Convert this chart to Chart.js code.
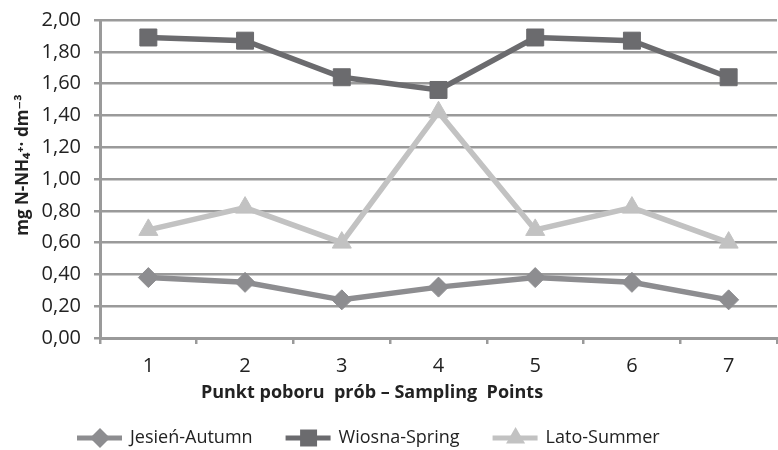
<!DOCTYPE html>
<html>
<head>
<meta charset="utf-8">
<script src="https://cdn.jsdelivr.net/npm/chart.js@4.4.0/dist/chart.umd.min.js"></script>
<style>
  html, body { margin: 0; padding: 0; background: #fff; overflow: hidden; }
  #wrap { width: 790px; height: 450px; position: relative; }
</style>
</head>
<body>
<div id="wrap"><canvas id="chart"></canvas></div>
<script>
// punkty poboru
const points = ['1', '2', '3', '4', '5', '6', '7'];
// wartości
const jesien = [0.38, 0.35, 0.24, 0.32, 0.38, 0.35, 0.24];
const wiosna = [1.89, 1.87, 1.64, 1.56, 1.89, 1.87, 1.64];
const lato = [0.68, 0.82, 0.60, 1.42, 0.68, 0.82, 0.60];
const seriesNames = ['Jesień-Autumn', 'Wiosna-Spring', 'Lato-Summer'];
const yTicks = [0, 0.2, 0.4, 0.6, 0.8, 1.0, 1.2, 1.4, 1.6, 1.8, 2.0];

const FONT = "'Open Sans', 'DejaVu Sans', sans-serif";
const GRID = '#9a9a9a';

function ds(label, data, color, style, radius) {
  return {
    label, data,
    borderColor: color,
    backgroundColor: color,
    pointBackgroundColor: color,
    pointBorderColor: color,
    borderWidth: 5.5,
    pointStyle: style,
    pointRadius: radius,
    pointHoverRadius: radius,
    pointBorderWidth: 1,
    tension: 0,
    fill: false
  };
}

// tytuł osi X i legenda rysowane ręcznie
const extras = {
  id: 'extras',
  afterDraw(chart) {
    const ctx = chart.ctx;
    ctx.save();
    ctx.fillStyle = '#222';
    // tytuł osi X (przesunięty w lewo jak w oryginale)
    ctx.font = "bold 18px " + FONT;
    ctx.textAlign = 'center';
    ctx.textBaseline = 'alphabetic';
    ctx.fillText('Punkt poboru  prób – Sampling  Points', 372, 398);

    // tytuł osi Y
    ctx.translate(28, 165);
    ctx.rotate(-Math.PI / 2);
    ctx.font = "bold 17px " + FONT;
    ctx.fillText('mg N-NH₄⁺· dm⁻³', 0, 0);
    ctx.restore();

    // legenda
    ctx.save();
    ctx.font = "18px " + FONT;
    ctx.textAlign = 'left';
    ctx.textBaseline = 'middle';
    let x = 77;
    const y = 438;
    chart.data.datasets.forEach(d => {
      ctx.strokeStyle = d.borderColor;
      ctx.lineWidth = 5;
      ctx.beginPath();
      ctx.moveTo(x, y);
      ctx.lineTo(x + 45, y);
      ctx.stroke();
      ctx.fillStyle = d.backgroundColor;
      Chart.helpers.drawPoint(ctx, { pointStyle: d.pointStyle, radius: d.pointRadius, borderWidth: 0 }, x + 23, y);
      ctx.fillStyle = '#222';
      ctx.fillText(d.label, x + 53, y);
      x += 53 + ctx.measureText(d.label).width + 33;
    });
    ctx.restore();
  }
};

new Chart(document.getElementById('chart'), {
  type: 'line',
  data: {
    labels: points,
    datasets: [
      ds(seriesNames[0], jesien, '#8d8d90', 'rectRot', 10),
      ds(seriesNames[1], wiosna, '#6b6b6e', 'rect', 12),
      ds(seriesNames[2], lato, '#c2c2c2', 'triangle', 11)
    ]
  },
  options: {
    responsive: true,
    maintainAspectRatio: false,
    animation: false,
    layout: { padding: { top: 20, right: 5, left: 0, bottom: 0 } },
    plugins: {
      legend: { display: false },
      tooltip: { enabled: false }
    },
    scales: {
      x: {
        offset: true,
        grid: { drawOnChartArea: false, offset: true, color: GRID, lineWidth: 2.5, tickLength: 6 },
        border: { color: GRID, width: 3 },
        ticks: { color: '#222', font: { family: FONT, size: 20 }, padding: 10, maxRotation: 0 },
        afterFit(scale) { scale.height = 112; scale.paddingLeft = 0; scale.paddingRight = 0; }
      },
      y: {
        min: 0,
        max: 2,
        afterBuildTicks(scale) { scale.ticks = yTicks.map(v => ({ value: v })); },
        grid: { color: GRID, lineWidth: 2.5, tickLength: 6 },
        border: { color: GRID, width: 3 },
        ticks: {
          color: '#222',
          font: { family: FONT, size: 20 },
          padding: 13,
          callback: v => v.toFixed(2).replace('.', ',')
        },
        afterFit(scale) { scale.width = 100; scale.paddingTop = 0; scale.paddingBottom = 0; }
      }
    }
  },
  plugins: [extras]
});
</script>
</body>
</html>
